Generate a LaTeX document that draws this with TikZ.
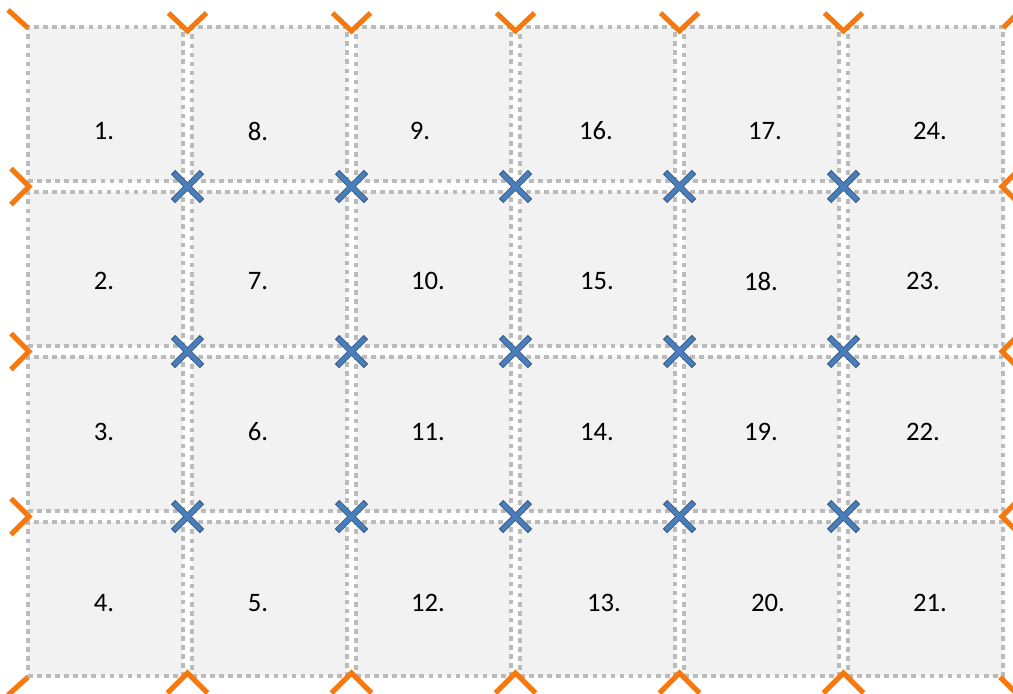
\documentclass[tikz,border=0pt]{standalone}
\usepackage{fontspec}
\setmainfont{Carlito}
\definecolor{cellfill}{RGB}{242,242,242}
\definecolor{celldot}{RGB}{187,187,187}
\definecolor{xblue}{RGB}{74,126,187}
\definecolor{xblueedge}{RGB}{56,93,138}
\definecolor{mkorange}{RGB}{247,120,12}
\tikzset{
  cellbox/.style={draw=celldot, fill=cellfill, line width=3.4pt,
    dash pattern=on 3.4pt off 3.4pt, minimum width=116.25pt, minimum height=115.5pt,
    inner sep=0pt, outer sep=0pt},
  celltext/.style={inner sep=0pt, font=\fontsize{20}{24}\selectfont},
  crossedge/.style={draw=xblueedge, line width=4.6pt},
  crossline/.style={draw=xblue, line width=3.2pt},
  orangemark/.style={draw=mkorange, line width=3.8pt}
}
\begin{document}
\begin{tikzpicture}[x=0.75pt,y=-0.75pt]
\useasboundingbox (0,0) rectangle (1013,693);
\fill[white] (0,0) rectangle (1013,693);
\begin{scope}
\clip (0,0) rectangle (1013,693);
% cells
\foreach \c/\r/\n in {0/0/1,1/0/8,2/0/9,3/0/16,4/0/17,5/0/24,
                       0/1/2,1/1/7,2/1/10,3/1/15,4/1/18,5/1/23,
                       0/2/3,1/2/6,2/2/11,3/2/14,4/2/19,5/2/22,
                       0/3/4,1/3/5,2/3/12,3/3/13,4/3/20,5/3/21}{
  \node[cellbox] (c\n) at ({105.5+164*\c},{104+165*\r}) {};
}
% labels
\foreach \x/\y/\n in {104/131/1,258/131/8,420/131/9,596/131/16,765/131/17,930/131/24,
                      104/281/2,258/281/7,428/281/10,597/281/15,761/281/18,923/281/23,
                      104/432/3,258/432/6,428/432/11,597/432/14,761/432/19,923/432/22,
                      104/603/4,258/603/5,428/603/12,604/603/13,768/603/20,930/603/21}{
  \node[celltext] (t\n) at (\x,\y) {\n.};
}
% blue crosses at inner intersections
\foreach \x in {187.5,351.5,515.5,679.5,843.5}{
  \foreach \y in {186.5,351.5,516.5}{
    \coordinate (x) at (\x,\y);
    \draw[crossedge] ([shift={(-14.5,-14.5)}]x) -- ([shift={(14.5,14.5)}]x)
                     ([shift={(-14.5,14.5)}]x) -- ([shift={(14.5,-14.5)}]x);
    \draw[crossline] ([shift={(-13.5,-13.5)}]x) -- ([shift={(13.5,13.5)}]x)
                     ([shift={(-13.5,13.5)}]x) -- ([shift={(13.5,-13.5)}]x);
  }
}
% orange half-crosses on the outer boundary
\foreach \x in {187.5,351.5,515.5,679.5,843.5}{
  \coordinate (tp) at (\x,31);
  \draw[orangemark] ([shift={(-19,-18)}]tp) -- (tp) -- ([shift={(19,-18)}]tp);
  \coordinate (bp) at (\x,673);
  \draw[orangemark] ([shift={(-20,20)}]bp) -- (bp) -- ([shift={(20,20)}]bp);
}
\foreach \y in {186.5,351.5,516.5}{
  \coordinate (lp) at (29,\y);
  \draw[orangemark] ([shift={(-18,-18)}]lp) -- (lp) -- ([shift={(-18,18)}]lp);
  \coordinate (rp) at (1002,\y);
  \draw[orangemark] ([shift={(18,-18)}]rp) -- (rp) -- ([shift={(18,18)}]rp);
}
% corners
\coordinate (tl) at (28,28);
\draw[orangemark] ([shift={(-20,-18)}]tl) -- (tl);
\coordinate (tr) at (1003,28);
\draw[orangemark] ([shift={(18,-18)}]tr) -- (tr);
\coordinate (bl) at (28,677);
\draw[orangemark] ([shift={(-20,18)}]bl) -- (bl);
\coordinate (br) at (1000,677);
\draw[orangemark] ([shift={(18,18)}]br) -- (br);
\end{scope}
\end{tikzpicture}
\end{document}
